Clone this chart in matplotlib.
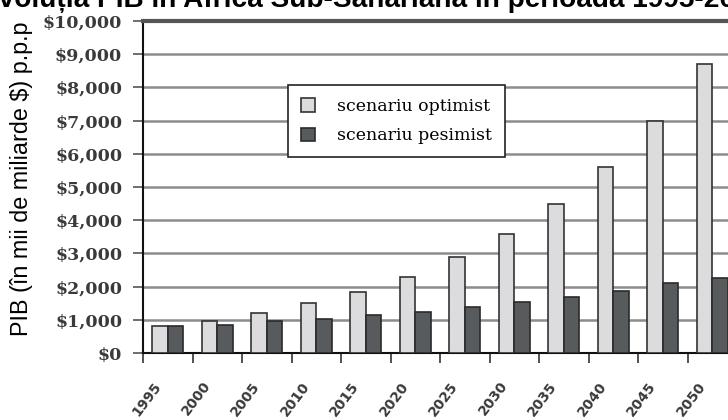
import matplotlib.pyplot as plt
import matplotlib.transforms as mtransforms
import numpy as np

# date
ani = ["1995", "2000", "2005", "2010", "2015", "2020", "2025", "2030",
       "2035", "2040", "2045", "2050"]
optimist = [800, 950, 1200, 1500, 1850, 2300, 2880, 3580, 4500, 5600, 7000, 8700]
pesimist = [800, 850, 950, 1020, 1150, 1250, 1380, 1530, 1700, 1880, 2100, 2260]
yticks = np.arange(0, 10001, 1000)
ytick_labels = ["$0"] + ["${:,}".format(v) for v in yticks[1:]]

fig = plt.figure(figsize=(7.28, 4.2), dpi=100)
ax = fig.add_axes([143 / 728, 1 - 353 / 420, 594 / 728, 332 / 420])

x = np.arange(len(ani))
w = 0.31
ax.bar(x - w / 2, optimist, w, color="#dcdcdf", edgecolor="#333333",
       linewidth=1.2, label="scenariu optimist", zorder=3)
ax.bar(x + w / 2, pesimist, w, color="#575b5e", edgecolor="#2a2a2a",
       linewidth=1.2, label="scenariu pesimist", zorder=3)

ax.set_xlim(-0.5, len(ani) - 0.5)
ax.set_ylim(0, 10000)
ax.set_yticks(yticks)
ax.set_yticklabels(ytick_labels, fontfamily="DejaVu Serif", fontweight="bold",
                   fontsize=12.5, color="#3a3a3a")
ax.yaxis.grid(True, color="#8c8c8c", linewidth=1.8, zorder=0)
ax.set_axisbelow(True)

# tick-uri la marginile grupurilor, etichetele le pun separat
ax.set_xticks(np.arange(len(ani) + 1) - 0.5)
ax.set_xticklabels([])
ax.tick_params(axis="x", length=7, width=1.2, color="#333333")
ax.tick_params(axis="y", length=7, width=1.2, color="#555555", pad=8)

offset = mtransforms.ScaledTranslation(-15 / 100, -26 / 100, fig.dpi_scale_trans)
for xi, an in zip(x, ani):
    ax.text(xi, 0, an, transform=ax.get_xaxis_transform() + offset,
            rotation=53, ha="right", va="top", rotation_mode="anchor",
            fontfamily="DejaVu Sans", fontweight="bold", fontsize=10,
            color="#3a3a3a", clip_on=False)

for s in ["left", "bottom"]:
    ax.spines[s].set_color("#111111")
    ax.spines[s].set_linewidth(1.5)
ax.spines["right"].set_visible(False)
ax.spines["top"].set_color("#555555")
ax.spines["top"].set_linewidth(3)

ax.set_ylabel("PIB (în mii de miliarde $) p.p.p", fontfamily="Liberation Sans",
              fontsize=16.8)
ax.yaxis.set_label_coords(-110 / 594, (353 - 178.5) / 332)

leg = ax.legend(loc="upper left", bbox_to_anchor=(288 / 728, 1 - 85 / 420),
                bbox_transform=fig.transFigure, fancybox=False, framealpha=1,
                edgecolor="#222222", handlelength=0.8, handleheight=0.8,
                borderpad=0.75, labelspacing=0.7, handletextpad=1.3,
                borderaxespad=0, prop={"family": "DejaVu Serif", "size": 12.5})
leg.get_frame().set_linewidth(1.2)

fig.text(-20 / 728, 1 - 7 / 420, "Evoluția PIB în Africa Sub-Sahariană în perioada 1995-2050",
         fontfamily="Liberation Sans", fontweight="bold", fontsize=20.2,
         ha="left", va="baseline")

fig.savefig("out.png", dpi=100)
